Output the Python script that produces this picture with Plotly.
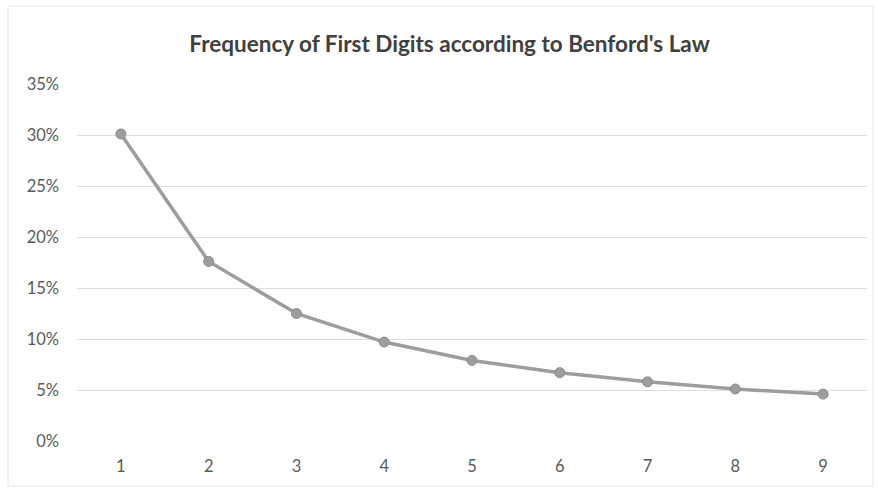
import plotly.graph_objects as go

digits = ["1", "2", "3", "4", "5", "6", "7", "8", "9"]
freq_pct = [30.1, 17.6, 12.5, 9.7, 7.9, 6.7, 5.8, 5.1, 4.6]
y_ticks = [0, 5, 10, 15, 20, 25, 30, 35]
y_tick_labels = ["0%", "5%", "10%", "15%", "20%", "25%", "30%", "35%"]
title_text = "Frequency of First Digits according to Benford's Law"

fig = go.Figure()
fig.add_trace(go.Scatter(
    x=digits, y=freq_pct, mode="lines+markers",
    line=dict(color="#9d9d9d", width=3.5),
    marker=dict(color="#9d9d9d", size=10, line=dict(color="#8c8c8c", width=1)),
    hoverinfo="x+y",
))

fig.update_layout(
    width=878, height=490,
    margin=dict(l=77, r=11, t=84, b=49),
    paper_bgcolor="white", plot_bgcolor="white",
    showlegend=False,
    title=dict(text=title_text, x=0.512, xanchor="center", y=1 - 44 / 490, yanchor="middle",
               font=dict(family="Lato", size=22.5, color="#404040", weight="bold")),
    font=dict(family="Lato", color="#5a5a5a"),
)
fig.update_xaxes(
    type="category", range=[-0.5, 8.5], showgrid=False, zeroline=False, showline=False,
    ticks="", tickfont=dict(size=16.5, color="#5a5a5a"), ticklabelstandoff=13,
)
fig.update_yaxes(
    range=[0, 35], tickvals=y_ticks, ticktext=y_tick_labels,
    showgrid=True, gridcolor="#dedede", gridwidth=1, zeroline=False, showline=False,
    ticks="", tickfont=dict(size=16.5, color="#5a5a5a"), ticklabelstandoff=17,
)
fig.add_shape(type="rect", xref="paper", yref="paper", x0=-69 / 790, x1=1 + 6 / 790,
              y0=-45 / 357, y1=1 + 78 / 357, line=dict(color="#e6e6e6", width=1), layer="below")

fig.write_html("out.html", config={"displayModeBar": False},
               post_script="document.body.style.margin='0';")
